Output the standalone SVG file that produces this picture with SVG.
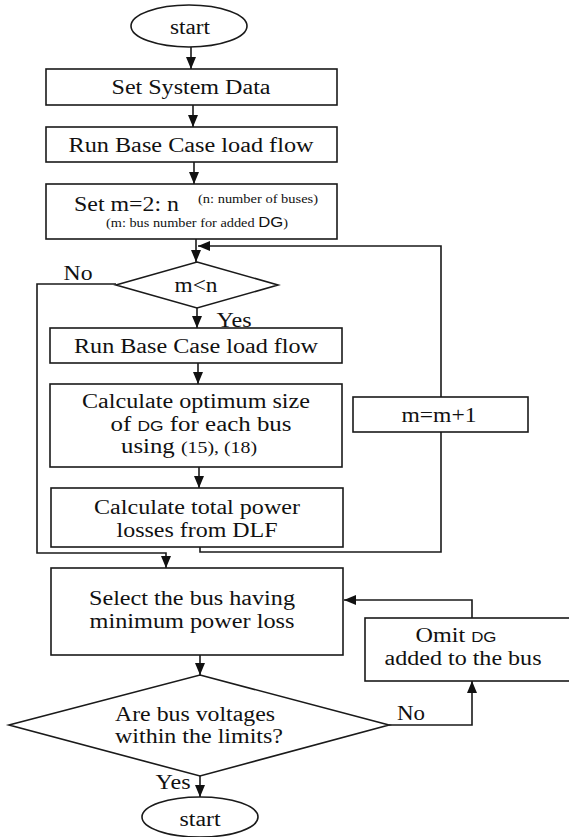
<svg xmlns="http://www.w3.org/2000/svg" width="569" height="837" viewBox="0 0 569 837">
<style>
.s{fill:#fff;stroke:#1a1a1a;stroke-width:1.6}
.c{fill:none;stroke:#1a1a1a;stroke-width:1.6}
text{font-family:"Liberation Serif","Times New Roman",serif;fill:#111;font-size:20px}
.m{text-anchor:middle}
.sm{font-size:12px}
.dg{font-family:"Liberation Sans",Arial,sans-serif;font-size:14px}
</style>
<defs>
<marker id="a" viewBox="0 0 12 10" refX="12" refY="5" markerWidth="12" markerHeight="10" markerUnits="userSpaceOnUse" orient="auto">
<path d="M0,0 L12,5 L0,10 z" fill="#111"/>
</marker>
</defs>
<g id="connectors">
<path class="c" d="M191,47 V69" marker-end="url(#a)"/>
<path class="c" d="M193,105 V127" marker-end="url(#a)"/>
<path class="c" d="M194,162 V184" marker-end="url(#a)"/>
<path class="c" d="M196,239 V262" marker-end="url(#a)"/>
<path class="c" d="M441,397 V246 H198" marker-end="url(#a)"/>
<path class="c" d="M116,284 H37 V553 H166 V568" marker-end="url(#a)"/>
<path class="c" d="M197,308 V328" marker-end="url(#a)"/>
<path class="c" d="M198,363 V384" marker-end="url(#a)"/>
<path class="c" d="M199,467 V488" marker-end="url(#a)"/>
<path class="c" d="M200,547 V552 H441 V432"/>
<path class="c" d="M200,655 V675" marker-end="url(#a)"/>
<path class="c" d="M389,725 H472 V681" marker-end="url(#a)"/>
<path class="c" d="M472,618 V600 H344" marker-end="url(#a)"/>
<path class="c" d="M200,776 V797" marker-end="url(#a)"/>
<text x="78" y="280" class="m" font-size="19" textLength="29" lengthAdjust="spacingAndGlyphs">No</text>
<text x="234" y="327" class="m" font-size="19" textLength="35" lengthAdjust="spacingAndGlyphs">Yes</text>
<text x="411" y="720" class="m" font-size="19" textLength="28" lengthAdjust="spacingAndGlyphs">No</text>
<text x="173" y="789" class="m" font-size="19" textLength="35" lengthAdjust="spacingAndGlyphs">Yes</text>
</g>
<g id="start">
<ellipse class="s" cx="189" cy="26" rx="58" ry="21"/>
<text x="190" y="34" class="m" font-size="19" textLength="40" lengthAdjust="spacingAndGlyphs">start</text>
</g>
<g id="set-system-data">
<rect class="s" x="46" y="69" width="291" height="36"/>
<text x="191" y="94" class="m" textLength="159" lengthAdjust="spacingAndGlyphs">Set System Data</text>
</g>
<g id="run-base-1">
<rect class="s" x="46" y="127" width="291" height="35"/>
<text x="191" y="152" class="m" textLength="245" lengthAdjust="spacingAndGlyphs">Run Base Case load flow</text>
</g>
<g id="set-m">
<rect class="s" x="46" y="184" width="291" height="55"/>
<text x="74" y="211" textLength="105" lengthAdjust="spacingAndGlyphs">Set m=2: n</text>
<text x="198" y="203" class="sm" textLength="120" lengthAdjust="spacingAndGlyphs">(n: number of buses)</text>
<text x="106" y="227" class="sm" textLength="182" lengthAdjust="spacingAndGlyphs">(m: bus number for added <tspan class="dg" font-size="12">DG</tspan>)</text>
</g>
<g id="decision-mn">
<path class="s" d="M197,262 L278,285 L197,308 L116,285 Z"/>
<text x="196" y="292" class="m" font-size="16" textLength="43" lengthAdjust="spacingAndGlyphs">m&lt;n</text>
</g>
<g id="run-base-2">
<rect class="s" x="50" y="328" width="292" height="35"/>
<text x="196" y="353" class="m" textLength="244" lengthAdjust="spacingAndGlyphs">Run Base Case load flow</text>
</g>
<g id="calc-optimum">
<rect class="s" x="50" y="384" width="292" height="83"/>
<text x="196" y="408" class="m" textLength="228" lengthAdjust="spacingAndGlyphs">Calculate optimum size</text>
<text x="201" y="431" class="m" textLength="181" lengthAdjust="spacingAndGlyphs">of <tspan class="dg" font-size="16">DG</tspan> for each bus</text>
<text x="189" y="453" class="m" textLength="136" lengthAdjust="spacingAndGlyphs">using <tspan font-size="16">(15), (18)</tspan></text>
</g>
<g id="calc-losses">
<rect class="s" x="51" y="488" width="292" height="59"/>
<text x="197" y="514" class="m" textLength="206" lengthAdjust="spacingAndGlyphs">Calculate total power</text>
<text x="197" y="537" class="m" textLength="161" lengthAdjust="spacingAndGlyphs">losses from DLF</text>
</g>
<g id="increment">
<rect class="s" x="353" y="397" width="175" height="35"/>
<text x="439" y="422" class="m" textLength="75" lengthAdjust="spacingAndGlyphs">m=m+1</text>
</g>
<g id="select-bus">
<rect class="s" x="51" y="568" width="292" height="87"/>
<text x="192" y="605" class="m" textLength="206" lengthAdjust="spacingAndGlyphs">Select the bus having</text>
<text x="192" y="628" class="m" textLength="205" lengthAdjust="spacingAndGlyphs">minimum power loss</text>
</g>
<g id="omit-dg">
<rect class="s" x="365" y="618" width="206" height="63"/>
<text x="456" y="642" class="m" textLength="81" lengthAdjust="spacingAndGlyphs">Omit <tspan class="dg" font-size="16">DG</tspan></text>
<text x="463" y="665" class="m" textLength="157" lengthAdjust="spacingAndGlyphs">added to the bus</text>
</g>
<g id="decision-voltage">
<path class="s" d="M200,675 L389,725 L200,776 L9,725 Z"/>
<text x="195" y="721" class="m" textLength="160" lengthAdjust="spacingAndGlyphs">Are bus voltages</text>
<text x="199" y="743" class="m" textLength="168" lengthAdjust="spacingAndGlyphs">within the limits?</text>
</g>
<g id="end">
<ellipse class="s" cx="200" cy="817" rx="58" ry="20"/>
<text x="200" y="826" class="m" font-size="19" textLength="41" lengthAdjust="spacingAndGlyphs">start</text>
</g>
</svg>
